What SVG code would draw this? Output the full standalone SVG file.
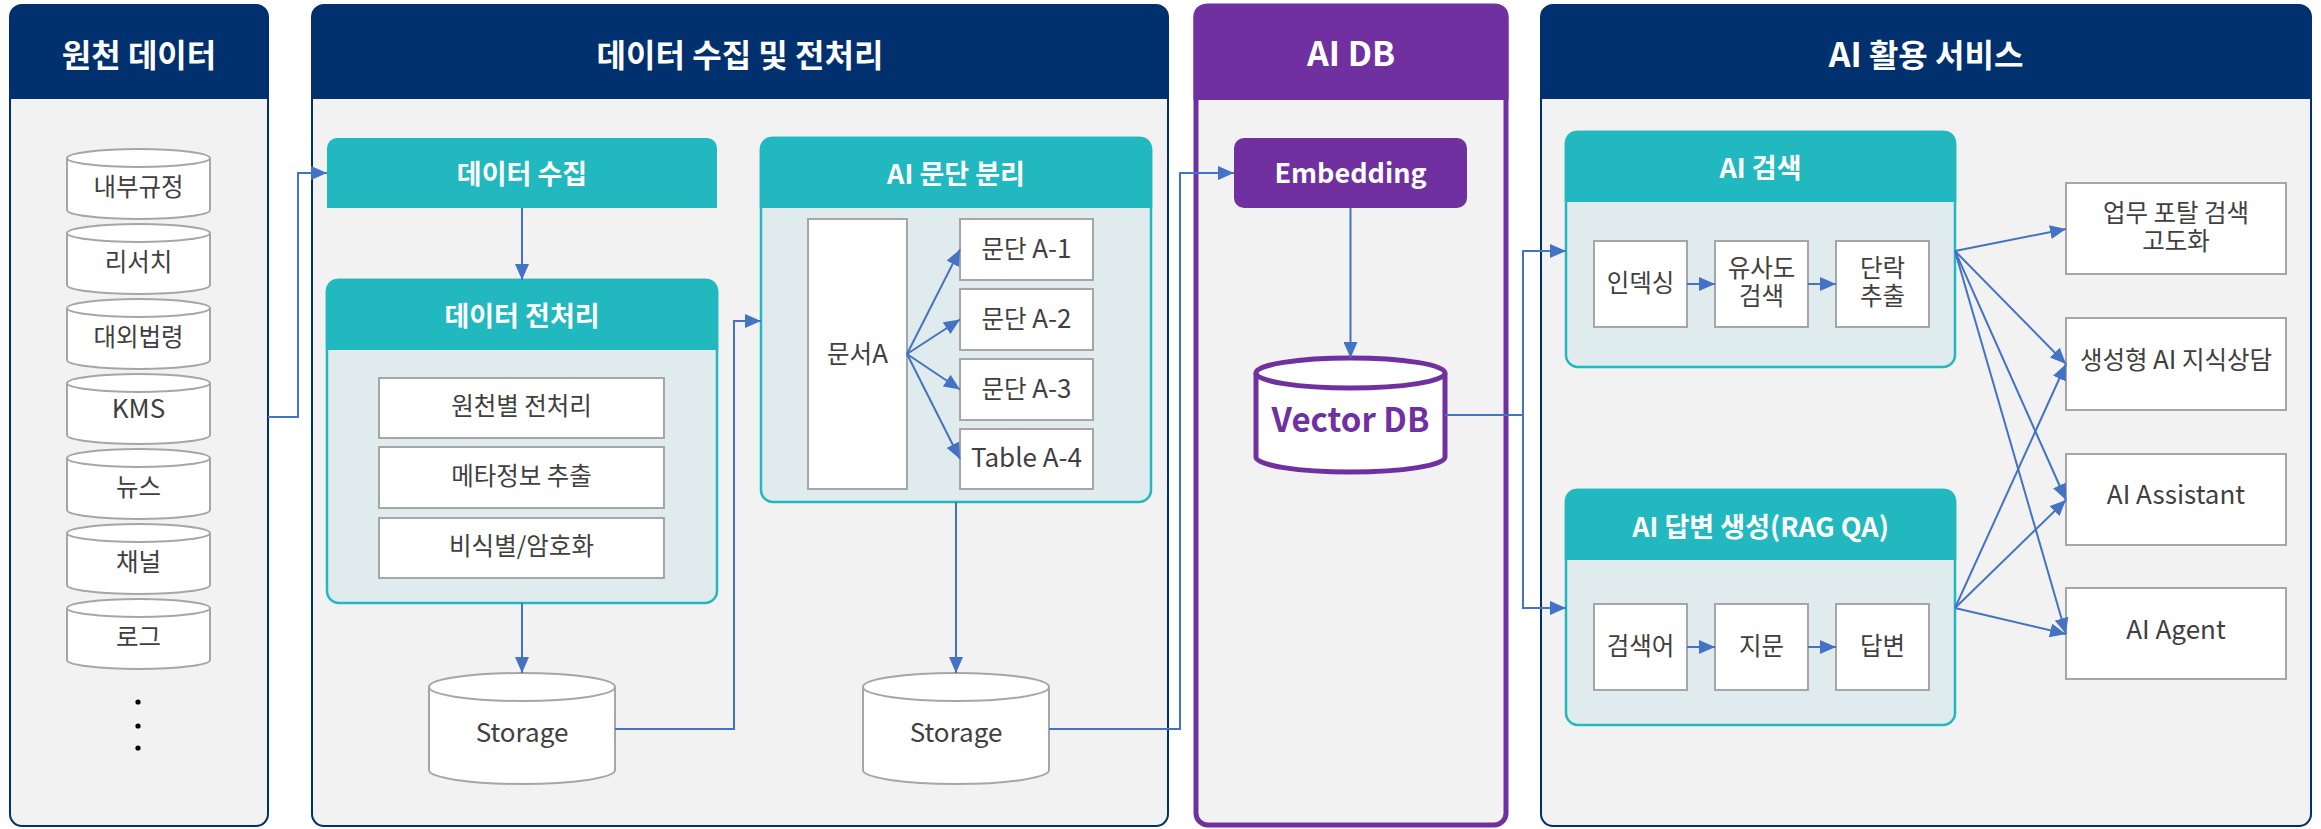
<svg xmlns="http://www.w3.org/2000/svg" width="2321" height="829" viewBox="0 0 2321 829">
<defs>
<style>
.pbody{fill:#F2F2F2;stroke:#00306E;stroke-width:2}
.phead{fill:#00306E}
.pbodyP{fill:#F2F2F2;stroke:#7030A0;stroke-width:5}
.pheadP{fill:#7030A0}
.pt{font-family:"Noto Sans CJK KR","Noto Sans",sans-serif;font-weight:700;font-size:32px;fill:#FFFFFF;text-anchor:middle}
.pl{font-size:34px}
.thead{fill:#22B8BF}
.tbody{fill:#E0EBEE;stroke:#22B8BF;stroke-width:2.5}
.tt{font-family:"Noto Sans CJK KR","Noto Sans",sans-serif;font-weight:700;font-size:27px;fill:#FFFFFF;text-anchor:middle}
.tl{font-size:27px}
.box{fill:#FFFFFF;stroke:#A6A6A6;stroke-width:2}
.cyl{fill:#FFFFFF;stroke:#A6A6A6;stroke-width:2}
.cylf{fill:none;stroke:#A6A6A6;stroke-width:2}
.t{font-family:"Noto Sans CJK KR","Noto Sans",sans-serif;font-size:24.5px;fill:#404040;text-anchor:middle}
.l{font-size:26px}
.conn{fill:none;stroke:#4472C4;stroke-width:2}
.arr{fill:none;stroke:#4472C4;stroke-width:2;marker-end:url(#ah)}
</style>
<marker id="ah" markerUnits="userSpaceOnUse" markerWidth="16" markerHeight="14" refX="16" refY="7" orient="auto">
<path d="M0,0 L16,7 L0,14 Z" fill="#4472C4"/>
</marker>
</defs>

<!-- Panels -->
<g id="panel-source">
<rect class="pbody" x="10" y="5" width="258" height="821" rx="12"/>
<path class="phead" d="M10,99 V17 A12,12 0 0 1 22,5 H256 A12,12 0 0 1 268,17 V99 Z"/>
<text class="pt" x="139" y="67">원천 데이터</text>
</g>
<g id="panel-collect">
<rect class="pbody" x="312" y="5" width="856" height="821" rx="12"/>
<path class="phead" d="M312,99 V17 A12,12 0 0 1 324,5 H1156 A12,12 0 0 1 1168,17 V99 Z"/>
<text class="pt" x="740" y="67">데이터 수집 및 전처리</text>
</g>
<g id="panel-aidb">
<rect class="pbodyP" x="1196" y="6" width="310" height="819" rx="12"/>
<path class="pheadP" d="M1193.5,100 V16 A12,12 0 0 1 1205.5,4 H1496.5 A12,12 0 0 1 1508.5,16 V100 Z"/>
<text class="pt" x="1351" y="66"><tspan class="pl">AI DB</tspan></text>
</g>
<g id="panel-service">
<rect class="pbody" x="1541" y="5" width="770" height="821" rx="12"/>
<path class="phead" d="M1541,99 V17 A12,12 0 0 1 1553,5 H2299 A12,12 0 0 1 2311,17 V99 Z"/>
<text class="pt" x="1926" y="67"><tspan class="pl">AI</tspan> 활용 서비스</text>
</g>

<!-- Source cylinders -->
<g id="src-1">
<path class="cyl" d="M67,158 V210 A71.5,9 0 0 0 210,210 V158 A71.5,9 0 0 0 67,158 Z"/>
<path class="cylf" d="M67,158 A71.5,9 0 0 0 210,158"/>
<text class="t" x="138.5" y="196">내부규정</text>
</g>
<g id="src-2">
<path class="cyl" d="M67,233 V285 A71.5,9 0 0 0 210,285 V233 A71.5,9 0 0 0 67,233 Z"/>
<path class="cylf" d="M67,233 A71.5,9 0 0 0 210,233"/>
<text class="t" x="138.5" y="271">리서치</text>
</g>
<g id="src-3">
<path class="cyl" d="M67,308 V360 A71.5,9 0 0 0 210,360 V308 A71.5,9 0 0 0 67,308 Z"/>
<path class="cylf" d="M67,308 A71.5,9 0 0 0 210,308"/>
<text class="t" x="138.5" y="346">대외법령</text>
</g>
<g id="src-4">
<path class="cyl" d="M67,383 V435 A71.5,9 0 0 0 210,435 V383 A71.5,9 0 0 0 67,383 Z"/>
<path class="cylf" d="M67,383 A71.5,9 0 0 0 210,383"/>
<text class="t" x="138.5" y="418"><tspan class="l">KMS</tspan></text>
</g>
<g id="src-5">
<path class="cyl" d="M67,458 V510 A71.5,9 0 0 0 210,510 V458 A71.5,9 0 0 0 67,458 Z"/>
<path class="cylf" d="M67,458 A71.5,9 0 0 0 210,458"/>
<text class="t" x="138.5" y="496">뉴스</text>
</g>
<g id="src-6">
<path class="cyl" d="M67,533 V585 A71.5,9 0 0 0 210,585 V533 A71.5,9 0 0 0 67,533 Z"/>
<path class="cylf" d="M67,533 A71.5,9 0 0 0 210,533"/>
<text class="t" x="138.5" y="571">채널</text>
</g>
<g id="src-7">
<path class="cyl" d="M67,608 V660 A71.5,9 0 0 0 210,660 V608 A71.5,9 0 0 0 67,608 Z"/>
<path class="cylf" d="M67,608 A71.5,9 0 0 0 210,608"/>
<text class="t" x="138.5" y="646">로그</text>
</g>
<g id="src-more" fill="#000000">
<circle cx="138" cy="702" r="2.6"/>
<circle cx="138" cy="726" r="2.6"/>
<circle cx="138" cy="748" r="2.6"/>
</g>

<!-- Collect -->
<g id="collect">
<path class="thead" d="M327,208 V148 A10,10 0 0 1 337,138 H707 A10,10 0 0 1 717,148 V208 Z"/>
<text class="tt" x="522" y="184">데이터 수집</text>
</g>
<g id="preprocess">
<rect class="tbody" x="327" y="280" width="390" height="323" rx="12"/>
<path class="thead" d="M325.75,350 V292 A12,12 0 0 1 337.75,278.75 H706.25 A12,12 0 0 1 718.25,292 V350 Z"/>
<text class="tt" x="522" y="326">데이터 전처리</text>
<rect class="box" x="379" y="378" width="285" height="60"/>
<text class="t" x="521.5" y="415">원천별 전처리</text>
<rect class="box" x="379" y="447" width="285" height="61"/>
<text class="t" x="521.5" y="485">메타정보 추출</text>
<rect class="box" x="379" y="518" width="285" height="60"/>
<text class="t" x="521.5" y="555">비식별/암호화</text>
</g>
<g id="storage-1">
<path class="cyl" d="M429,687 V770 A93,14 0 0 0 615,770 V687 A93,14 0 0 0 429,687 Z"/>
<path class="cylf" d="M429,687 A93,14 0 0 0 615,687"/>
<text class="t" x="522" y="742"><tspan class="l">Storage</tspan></text>
</g>

<!-- Paragraph split -->
<g id="split">
<rect class="tbody" x="761" y="138" width="390" height="364" rx="12"/>
<path class="thead" d="M759.75,208 V150 A12,12 0 0 1 771.75,136.75 H1140.25 A12,12 0 0 1 1152.25,150 V208 Z"/>
<text class="tt" x="956" y="184"><tspan class="tl">AI</tspan> 문단 분리</text>
</g>
<g id="docA">
<rect class="box" x="808" y="219" width="99" height="270"/>
<text class="t" x="857.5" y="363">문서<tspan class="l">A</tspan></text>
</g>
<g id="para-1">
<rect class="box" x="960" y="219" width="133" height="61"/>
<text class="t" x="1026.5" y="258">문단 <tspan class="l">A-1</tspan></text>
</g>
<g id="para-2">
<rect class="box" x="960" y="289" width="133" height="61"/>
<text class="t" x="1026.5" y="328">문단 <tspan class="l">A-2</tspan></text>
</g>
<g id="para-3">
<rect class="box" x="960" y="359" width="133" height="61"/>
<text class="t" x="1026.5" y="398">문단 <tspan class="l">A-3</tspan></text>
</g>
<g id="table-4">
<rect class="box" x="960" y="429" width="133" height="60"/>
<text class="t" x="1026.5" y="467"><tspan class="l">Table A-4</tspan></text>
</g>
<g id="storage-2">
<path class="cyl" d="M863,687 V770 A93,14 0 0 0 1049,770 V687 A93,14 0 0 0 863,687 Z"/>
<path class="cylf" d="M863,687 A93,14 0 0 0 1049,687"/>
<text class="t" x="956" y="742"><tspan class="l">Storage</tspan></text>
</g>

<!-- AI DB -->
<g id="embedding">
<rect x="1234" y="138" width="233" height="70" rx="10" fill="#7030A0"/>
<text class="tt" x="1350.5" y="183"><tspan class="tl" font-size="28">Embedding</tspan></text>
</g>
<g id="vectordb">
<path d="M1256,373 V457 A94.5,15 0 0 0 1445,457 V373 A94.5,15 0 0 0 1256,373 Z" fill="#FFFFFF" stroke="#7030A0" stroke-width="5"/>
<path d="M1256,373 A94.5,15 0 0 0 1445,373" fill="none" stroke="#7030A0" stroke-width="5"/>
<text x="1350.5" y="432" text-anchor="middle" font-family="Noto Sans CJK KR, Noto Sans, sans-serif" font-weight="700" font-size="33" fill="#7030A0">Vector DB</text>
</g>

<!-- AI Search -->
<g id="ai-search">
<rect class="tbody" x="1566" y="132" width="389" height="235" rx="12"/>
<path class="thead" d="M1564.75,202 V144 A12,12 0 0 1 1576.75,130.75 H1944.25 A12,12 0 0 1 1956.25,144 V202 Z"/>
<text class="tt" x="1760.5" y="178"><tspan class="tl">AI</tspan> 검색</text>
</g>
<g id="indexing">
<rect class="box" x="1594" y="241" width="93" height="86"/>
<text class="t" x="1640.5" y="292">인덱싱</text>
</g>
<g id="similarity">
<rect class="box" x="1715" y="241" width="93" height="86"/>
<text class="t" x="1761.5" y="277">유사도</text>
<text class="t" x="1761.5" y="305">검색</text>
</g>
<g id="extract">
<rect class="box" x="1836" y="241" width="93" height="86"/>
<text class="t" x="1882.5" y="277">단락</text>
<text class="t" x="1882.5" y="305">추출</text>
</g>

<!-- AI Answer -->
<g id="ai-answer">
<rect class="tbody" x="1566" y="490" width="389" height="235" rx="12"/>
<path class="thead" d="M1564.75,560 V502 A12,12 0 0 1 1576.75,488.75 H1944.25 A12,12 0 0 1 1956.25,502 V560 Z"/>
<text class="tt" x="1760.5" y="537"><tspan class="tl">AI</tspan> 답변 생성<tspan class="tl">(RAG QA)</tspan></text>
</g>
<g id="query">
<rect class="box" x="1594" y="604" width="93" height="86"/>
<text class="t" x="1640.5" y="655">검색어</text>
</g>
<g id="passage">
<rect class="box" x="1715" y="604" width="93" height="86"/>
<text class="t" x="1761.5" y="655">지문</text>
</g>
<g id="answer">
<rect class="box" x="1836" y="604" width="93" height="86"/>
<text class="t" x="1882.5" y="655">답변</text>
</g>

<!-- Services -->
<g id="svc-portal">
<rect class="box" x="2066" y="183" width="220" height="91"/>
<text class="t" x="2176" y="222">업무 포탈 검색</text>
<text class="t" x="2176" y="250">고도화</text>
</g>
<g id="svc-consult">
<rect class="box" x="2066" y="318" width="220" height="92"/>
<text class="t" x="2176" y="369">생성형 <tspan class="l">AI</tspan> 지식상담</text>
</g>
<g id="svc-assistant">
<rect class="box" x="2066" y="454" width="220" height="91"/>
<text class="t" x="2176" y="504"><tspan class="l">AI Assistant</tspan></text>
</g>
<g id="svc-agent">
<rect class="box" x="2066" y="588" width="220" height="91"/>
<text class="t" x="2176" y="639"><tspan class="l">AI Agent</tspan></text>
</g>

<!-- Connectors -->
<g id="connectors">
<path class="arr" d="M268,417 H298 V173 H327"/>
<path class="arr" d="M522,208 V280"/>
<path class="arr" d="M522,603 V673"/>
<path class="arr" d="M615,729 H734 V321 H761"/>
<path class="arr" d="M907,354 L960,249.5"/>
<path class="arr" d="M907,354 L960,319.5"/>
<path class="arr" d="M907,354 L960,389.5"/>
<path class="arr" d="M907,354 L960,459"/>
<path class="arr" d="M956,502 V673"/>
<path class="arr" d="M1049,729 H1180 V173 H1234"/>
<path class="arr" d="M1350.5,208 V358"/>
<path class="arr" d="M1445,415 H1523 V251 H1566"/>
<path class="arr" d="M1523,415 V608 H1566"/>
<path class="arr" d="M1687,284 H1715"/>
<path class="arr" d="M1808,284 H1836"/>
<path class="arr" d="M1687,647 H1715"/>
<path class="arr" d="M1808,647 H1836"/>
<path class="arr" d="M1955,251 L2066,229"/>
<path class="arr" d="M1955,251 L2066,364"/>
<path class="arr" d="M1955,251 L2066,500"/>
<path class="arr" d="M1955,251 L2066,634"/>
<path class="arr" d="M1955,608 L2066,364"/>
<path class="arr" d="M1955,608 L2066,500"/>
<path class="arr" d="M1955,608 L2066,634"/>
</g>
</svg>
